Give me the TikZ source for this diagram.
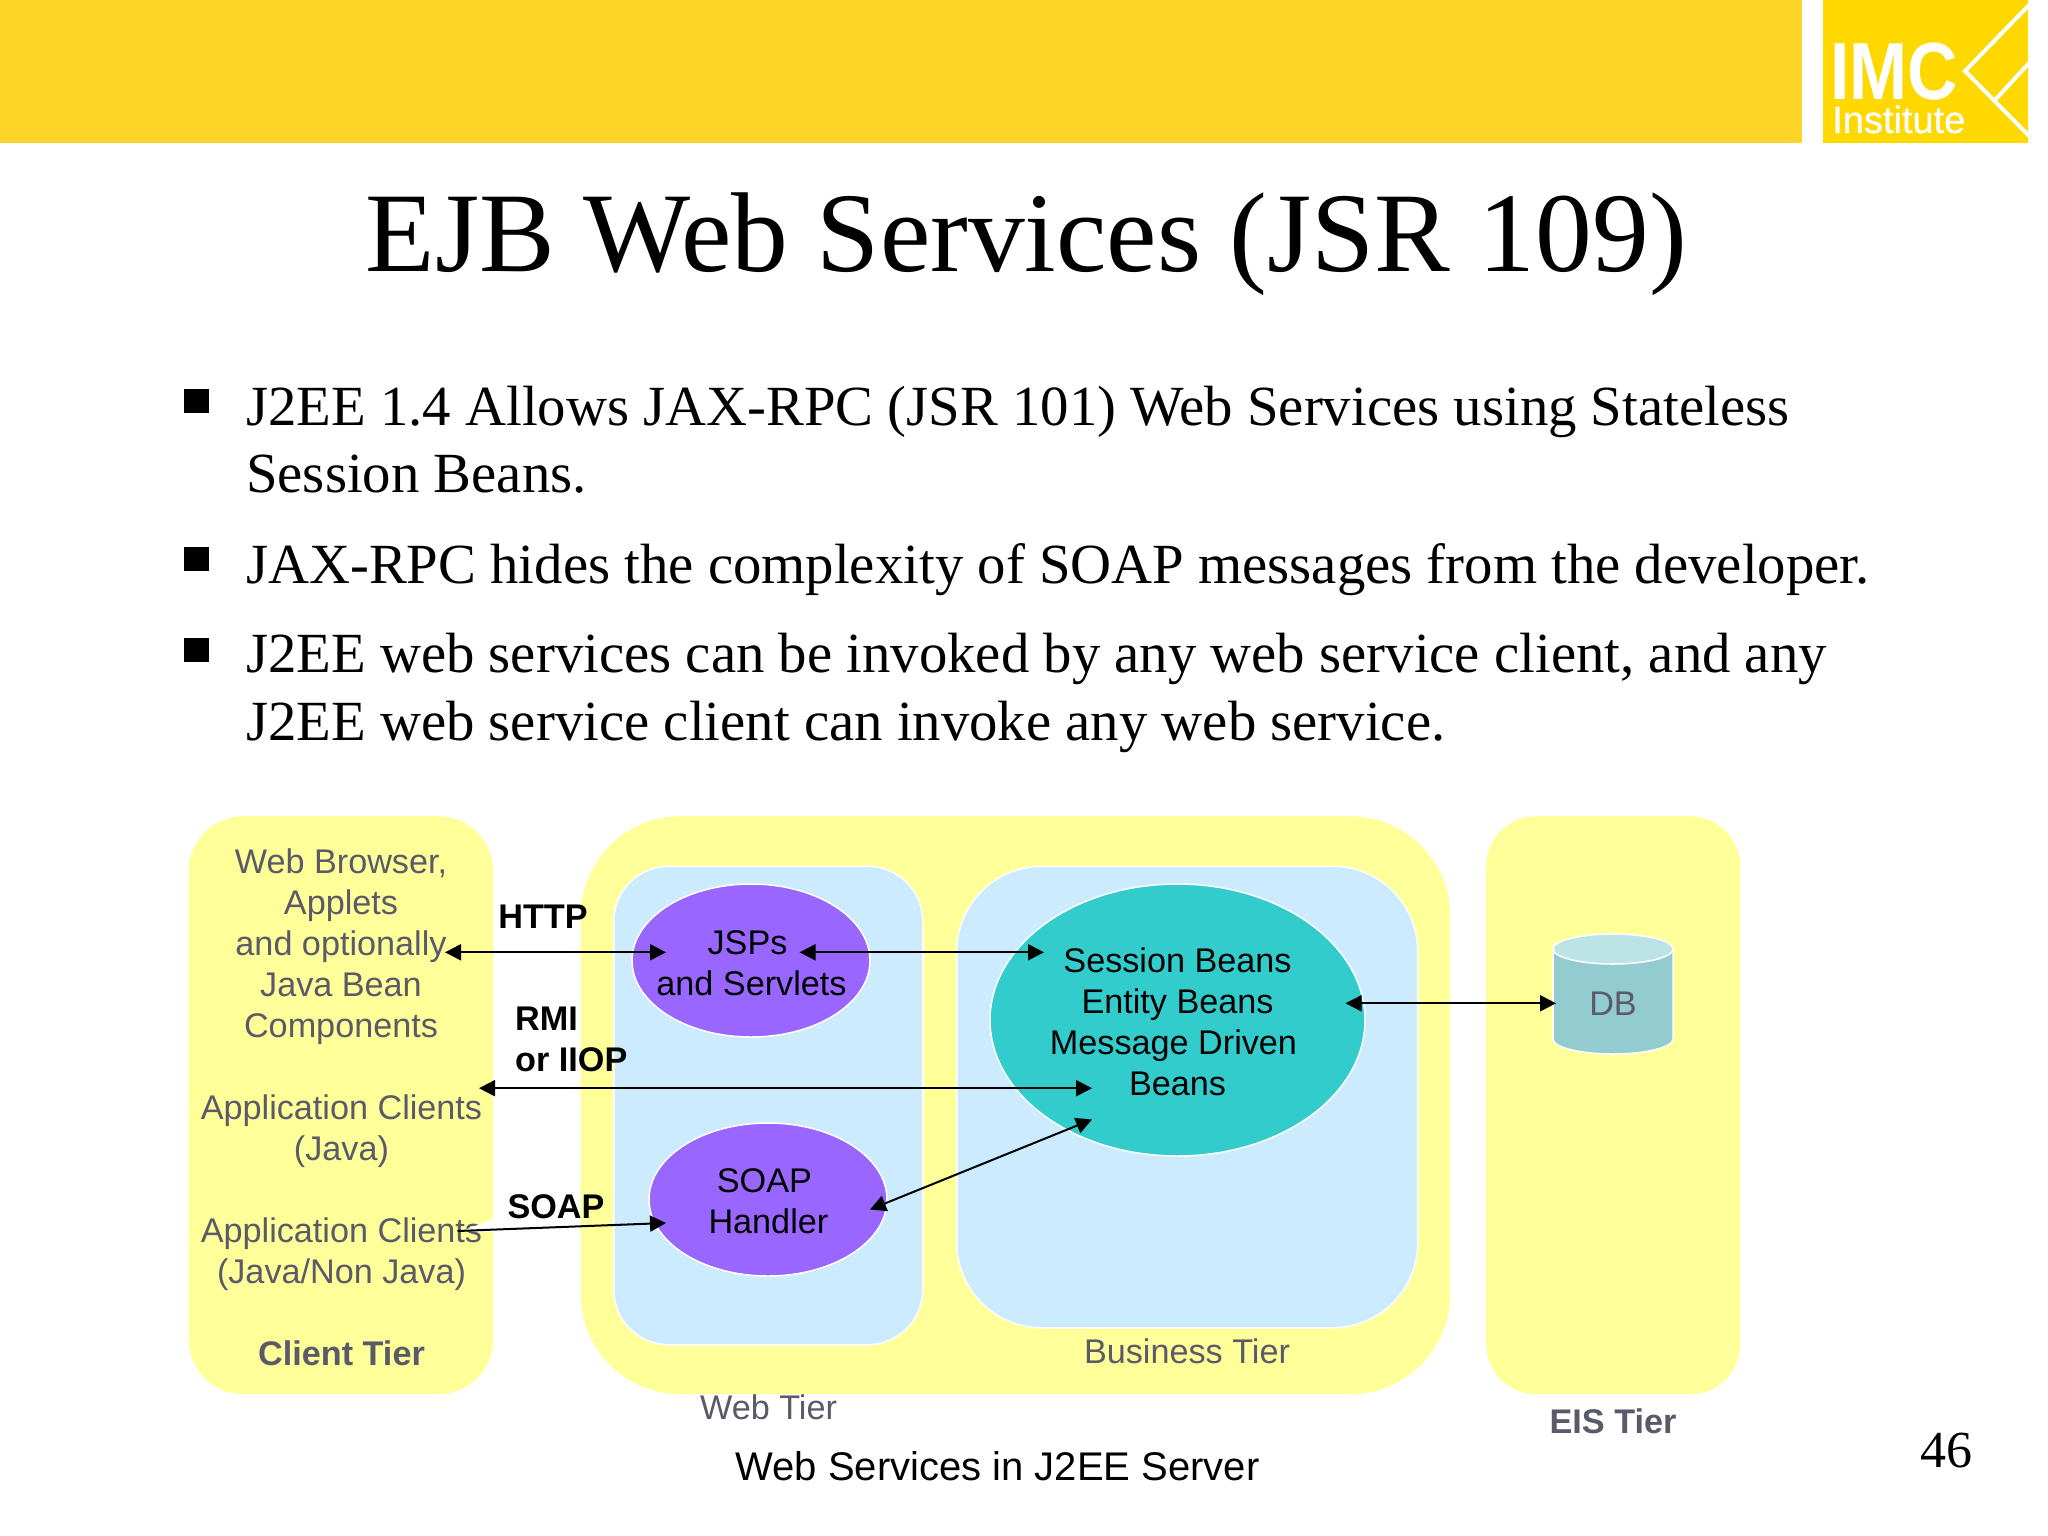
\documentclass[tikz,border=0pt]{standalone}
\usepackage{fontspec}
\usepackage{graphicx}
\setmainfont{Liberation Serif}
\newfontfamily\arialf{Liberation Sans}
\newfontfamily\logof[FakeBold=0.6]{Liberation Sans}
\usetikzlibrary{arrows.meta,shapes.geometric}
\definecolor{banner}{HTML}{FDD528}
\definecolor{logoyel}{HTML}{FFD800}
\definecolor{tierbg}{HTML}{FFFF99}
\definecolor{innerbg}{HTML}{CCEBFF}
\definecolor{purp}{HTML}{9966FF}
\definecolor{teal}{HTML}{33CCCC}
\definecolor{greytx}{HTML}{5A5A68}
\definecolor{dbbody}{HTML}{92CCD0}
\definecolor{dbtop}{HTML}{BCE3E6}
\tikzset{
  x=1pt,y=-1pt,
  tier/.style={fill=tierbg,draw=none,rectangle,inner sep=0pt,anchor=north west},
  inner/.style={fill=innerbg,draw=white,line width=1.5pt,rectangle,inner sep=0pt,anchor=north west},
  oval/.style={ellipse,draw=white,line width=1.5pt,inner sep=0pt,minimum width=238pt,minimum height=153pt,fill=purp},
  dlabel/.style={font=\arialf\fontsize{34.2}{41}\selectfont,align=center,text=greytx,inner sep=0pt},
  dlabelb/.style={dlabel,font=\arialf\bfseries\fontsize{34.2}{41}\selectfont},
  blk/.style={font=\arialf\fontsize{34.2}{41}\selectfont,align=center,text=black,inner sep=0pt},
  proto/.style={font=\arialf\bfseries\fontsize{34.2}{41}\selectfont,align=left,text=black,inner sep=0pt},
  bullettext/.style={font=\fontsize{56.75}{68}\selectfont,anchor=base west,inner sep=0pt,text=black},
  bulletmark/.style={fill=black,rectangle,inner sep=0pt,minimum width=25pt,minimum height=24pt},
  conn/.style={draw=black,line width=2pt},
  both/.style={conn,{Triangle[length=16pt,width=16pt]}-{Triangle[length=16pt,width=16pt]}},
  onetip/.style={conn,-{Triangle[length=16pt,width=16pt]}},
  logoln/.style={draw=white,line width=4pt},
}
\begin{document}
\begin{tikzpicture}
\useasboundingbox (0,0) rectangle (2048,1536);
\fill[white] (0,0) rectangle (2048,1536);
% banner and logo
\fill[banner] (0,0) rectangle (1802,143);
\fill[logoyel] (1823,0) rectangle (2028,143);
\begin{scope}
\clip (1823,0) rectangle (2028,143);
\draw[logoln] (2034,0) -- (1965,71) -- (2038,145);
\draw[logoln] (1995,100) -- (2030,62);
\end{scope}
\node[inner sep=0pt,text=white,anchor=base west,font=\arialf\bfseries\fontsize{81}{70}\selectfont] (logoa) at (1830,100) {\scalebox{.86}[1]{IMC}};
\node[inner sep=0pt,text=white,anchor=base west,font=\logof\fontsize{38}{38}\selectfont] (logob) at (1832,133) {Institute};
% title
\node[inner sep=0pt,anchor=base,font=\fontsize{113.5}{120}\selectfont] (title) at (1026.5,271) {EJB Web Services (JSR 109)};
% bullets
\node[bulletmark] (b1) at (196,401) {};
\node[bulletmark] (b2) at (196,559) {};
\node[bulletmark] (b3) at (196,650) {};
\node[bullettext] (t1a) at (246,425) {J2EE 1.4 Allows JAX-RPC (JSR 101) Web Services using Stateless};
\node[bullettext] (t1b) at (246,492) {Session Beans.};
\node[bullettext] (t2) at (246,583) {JAX-RPC hides the complexity of SOAP messages from the developer.};
\node[bullettext] (t3a) at (246,672.5) {J2EE web services can be invoked by any web service client, and any};
\node[bullettext] (t3b) at (246,740.5) {J2EE web service client can invoke any web service.};
% tiers
\node[tier,minimum width=304.5pt,minimum height=578pt,rounded corners=55pt] (client) at (188.5,816) {};
\node[tier,minimum width=869.5pt,minimum height=578pt,rounded corners=100pt] (outer) at (580.5,816) {};
\node[tier,minimum width=254pt,minimum height=578pt,rounded corners=50pt] (eis) at (1486,816) {};
\node[inner,minimum width=309pt,minimum height=478.5pt,rounded corners=55pt] (web) at (613,865.5) {};
\node[inner,minimum width=461pt,minimum height=461.5pt,rounded corners=85pt] (biz) at (956,865.5) {};
% ovals
\node[oval] (jsp) at (751,960.5) {};
\node[oval] (soap) at (768,1199.5) {};
\node[oval,fill=teal,minimum width=375pt,minimum height=272pt] (sess) at (1177.5,1020) {};
% db
\path[fill=dbbody,draw=white,line width=1.5pt] (1553,949) -- (1553,1039) arc[start angle=180,end angle=360,x radius=60pt,y radius=15pt] -- (1673,949) -- cycle;
\node[ellipse,fill=dbtop,draw=white,line width=1.5pt,minimum width=120pt,minimum height=30pt,inner sep=0pt] (dbcap) at (1613,949) {};
% texts
\node[blk] (jspt) at (751.5,963) {\hspace*{-8pt}JSPs\\and Servlets};
\node[blk] (soapt) at (768.4,1201) {\hspace*{-8pt}SOAP\\Handler};
\node[blk] (sesst) at (1177.5,1022) {Session Beans\\Entity Beans\\\hspace*{-8pt}Message Driven\\Beans};
\node[dlabel] (dbt) at (1613,1004) {DB};
\node[dlabel] (c1) at (341,946.5) {Web Browser,\\Applets\\and optionally\\Java Bean\\Components};
\node[dlabel] (c2) at (341.5,1131) {Application Clients\\(Java)};
\node[dlabel] (c3) at (341.5,1254) {Application Clients\\(Java/Non Java)};
\node[dlabelb] (ct) at (341.5,1353) {Client Tier};
\node[dlabel] (wt) at (768.5,1407.6) {Web Tier};
\node[dlabel] (bt) at (1187,1351.5) {Business Tier};
\node[dlabelb] (et) at (1613,1421) {EIS Tier};
\node[blk,font=\arialf\fontsize{40}{48}\selectfont] (cap) at (997.5,1466) {Web Services in J2EE Server};
\node[inner sep=0pt,anchor=base,font=\fontsize{52}{60}\selectfont] (pg) at (1946,1467.5) {46};
\node[proto] (http) at (543,917) {HTTP};
\node[proto,anchor=west] (rmi) at (515,1039.5) {RMI\\or IIOP};
\node[proto] (soapl) at (556,1207) {SOAP};
% connector end points
\coordinate (a1) at (445,952.3);
\coordinate (a2) at (666,952.3);
\coordinate (a3) at (799.5,952.3);
\coordinate (a4) at (1044,952.3);
\coordinate (a5) at (479,1088.2);
\coordinate (a6) at (1092,1088.2);
\coordinate (a7) at (457.5,1231);
\coordinate (a8) at (666,1223);
\coordinate (a9) at (870,1209.5);
\coordinate (a10) at (1092,1119.5);
\coordinate (a11) at (1345.5,1003.3);
\coordinate (a12) at (1556,1003.3);
\coordinate (w1) at (493,1219);
\coordinate (w2) at (462,1231);
\coordinate (w3) at (493,1232);
\fill[white] (w1) -- (w2) -- (w3) -- cycle;
\draw[both] (a1) -- (a2);
\draw[both] (a3) -- (a4);
\draw[both] (a5) -- (a6);
\draw[onetip] (a7) -- (a8);
\draw[both] (a9) -- (a10);
\draw[both] (a11) -- (a12);
\end{tikzpicture}
\end{document}
